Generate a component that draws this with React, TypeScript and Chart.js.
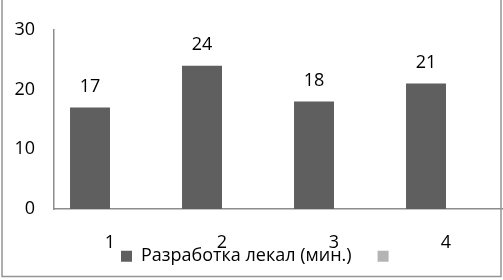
import React, { useEffect, useRef } from "react";
import { Chart, registerables } from "chart.js";

Chart.register(...registerables);

const categories = ["1", "2", "3", "4"];
const seriesName = "Разработка лекал (мин.)";
const seriesValues = [17, 24, 18, 21];
const emptySeriesName = "";
const emptySeriesValues: (number | null)[] = [null, null, null, null];
const yTicks = [0, 10, 20, 30];

const FONT = "'Open Sans', Lato, sans-serif";
const LEGEND_SIZE = 18;
const LEGEND_PAD = 26;

const borderPlugin = {
  id: "frameBorder",
  afterDraw(chart: any) {
    const ctx = chart.ctx;
    ctx.save();
    ctx.strokeStyle = "#949494";
    ctx.lineWidth = 1.5;
    ctx.beginPath();
    ctx.moveTo(2, 0);
    ctx.lineTo(2, 276.5);
    ctx.lineTo(501, 276.5);
    ctx.lineTo(501, 0);
    ctx.stroke();
    ctx.restore();
  },
};

const legendShiftPlugin = {
  id: "legendShift",
  afterLayout(chart: any) {
    const lg = chart.legend;
    if (!lg) return;
    const lineH = LEGEND_SIZE * 1.2;
    lg.top = 258 - LEGEND_PAD - lineH / 2;
    lg.bottom = chart.height;
    lg.height = lg.bottom - lg.top;
    const lw = lg.lineWidths && lg.lineWidths[0];
    if (lw) {
      lg.left = 2 * 121 - LEGEND_PAD - lg.right + lw;
      lg.width = lg.right - lg.left;
    }
  },
};

const valueLabelPlugin = {
  id: "valueLabels",
  afterDatasetsDraw(chart: any) {
    const ctx = chart.ctx;
    const meta = chart.getDatasetMeta(0);
    ctx.save();
    ctx.font = `18px ${FONT}`;
    ctx.fillStyle = "#000";
    ctx.textAlign = "center";
    ctx.textBaseline = "middle";
    meta.data.forEach((el: any, i: number) => {
      ctx.fillText(String(seriesValues[i]), el.x, el.y - 21);
    });
    ctx.restore();
  },
};

export default function App() {
  const ref = useRef<HTMLCanvasElement>(null);
  useEffect(() => {
    if (!ref.current) return;
    const chart = new Chart(ref.current, {
      type: "bar",
      data: {
        labels: categories,
        datasets: [
          {
            label: seriesName,
            data: seriesValues,
            backgroundColor: "#5f5f5f",
            categoryPercentage: 0.714,
            barPercentage: 1,
          },
          {
            label: emptySeriesName,
            data: emptySeriesValues,
            backgroundColor: "#b4b4b4",
            categoryPercentage: 0.714,
            barPercentage: 1,
          },
        ],
      },
      options: {
        responsive: false,
        animation: false,
        layout: { padding: { top: 19, right: 1, left: 0, bottom: 0 } },
        plugins: {
          tooltip: { enabled: false },
          legend: {
            position: "bottom",
            maxHeight: 26,
            labels: {
              font: { family: FONT, size: LEGEND_SIZE },
              color: "#000",
              boxWidth: 11,
              boxHeight: 11,
              padding: LEGEND_PAD,
            },
          },
        },
        scales: {
          x: {
            grid: { display: false, drawTicks: false },
            border: { display: true, color: "#8c8c8c", width: 1.5 },
            ticks: {
              font: { family: FONT, size: 18 },
              color: "#000",
              padding: 23,
            },
            afterFit(scale: any) {
              scale.height = 45;
            },
          },
          y: {
            min: 0,
            max: 30,
            afterBuildTicks(scale: any) {
              scale.ticks = yTicks.map((v) => ({ value: v }));
            },
            grid: { display: false, drawTicks: false },
            border: { display: true, color: "#8c8c8c", width: 1.5 },
            ticks: {
              font: { family: FONT, size: 18 },
              color: "#000",
              padding: 19,
            },
            afterFit(scale: any) {
              scale.width = 54;
            },
          },
        },
      },
      plugins: [valueLabelPlugin, borderPlugin, legendShiftPlugin],
    });
    return () => chart.destroy();
  }, []);
  return (
    <div style={{ position: "fixed", left: 0, top: 0, width: 503, height: 280, background: "#fff" }}>
      <canvas ref={ref} width={503} height={280} />
    </div>
  );
}
